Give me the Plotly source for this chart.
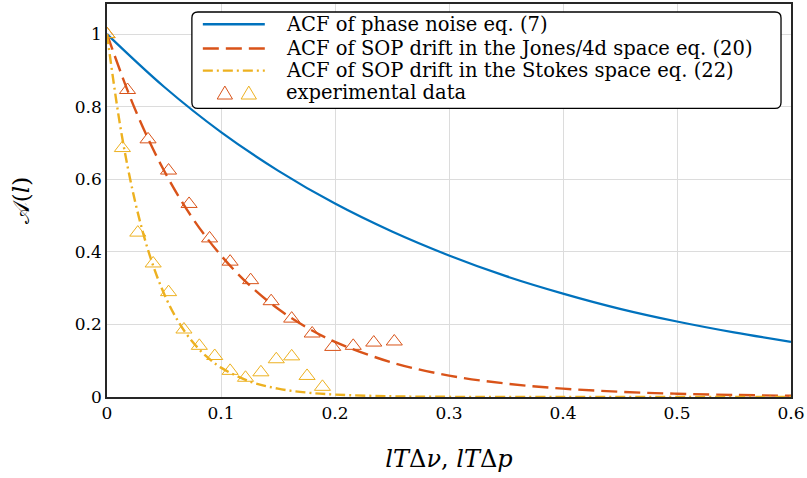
import plotly.graph_objects as go

# theoretical curves
x_phase = [0, 0.05, 0.1, 0.15, 0.2, 0.25, 0.3, 0.35, 0.4, 0.45, 0.5, 0.55, 0.6]
y_phase = [1.0, 0.855, 0.730, 0.624, 0.533, 0.456, 0.390, 0.333, 0.285, 0.243, 0.208, 0.178, 0.152]

x_jones = [0, 0.025, 0.05, 0.075, 0.1, 0.125, 0.15, 0.175, 0.2, 0.25, 0.3, 0.35, 0.4, 0.45, 0.5, 0.55, 0.6]
y_jones = [1.0, 0.790, 0.624, 0.493, 0.390, 0.308, 0.243, 0.192, 0.152, 0.095, 0.059, 0.037,
           0.023, 0.0144, 0.009, 0.0056, 0.0035]

x_stokes = [0, 0.0125, 0.025, 0.0375, 0.05, 0.0625, 0.075, 0.0875, 0.1, 0.125, 0.15, 0.175,
            0.2, 0.25, 0.3, 0.4, 0.5, 0.6]
y_stokes = [1.0, 0.730, 0.534, 0.390, 0.285, 0.208, 0.152, 0.111, 0.081, 0.043, 0.023, 0.0123,
            0.0066, 0.0019, 0.0005, 0.0, 0.0, 0.0]

# experimental data
x_exp_jones = [0, 0.018, 0.036, 0.054, 0.072, 0.090, 0.108, 0.126, 0.144, 0.162, 0.180, 0.198,
               0.216, 0.234, 0.252]
y_exp_jones = [1.0, 0.846, 0.71, 0.624, 0.532, 0.437, 0.373, 0.322, 0.264, 0.216, 0.175, 0.138,
               0.141, 0.150, 0.153]

x_exp_stokes = [0, 0.0135, 0.027, 0.0405, 0.054, 0.0675, 0.081, 0.0945, 0.108, 0.1215, 0.135,
                0.1485, 0.162, 0.1755, 0.189]
y_exp_stokes = [1.0, 0.686, 0.453, 0.368, 0.289, 0.186, 0.141, 0.113, 0.072, 0.053, 0.068,
                0.104, 0.112, 0.058, 0.028]

legend_labels = [
    "ACF of phase noise eq. (7)",
    "ACF of SOP drift in the Jones/4d space eq. (20)",
    "ACF of SOP drift in the Stokes space eq. (22)",
    "experimental data",
]

BLUE = "#0072BD"
RED = "#D95319"
YELLOW = "#EDB120"
FONT = "DejaVu Serif"

fig = go.Figure()

fig.add_trace(go.Scatter(x=x_phase, y=y_phase, mode="lines", line_shape="spline",
                         line=dict(color=BLUE, width=2.2), showlegend=False))
fig.add_trace(go.Scatter(x=x_jones, y=y_jones, mode="lines", line_shape="spline",
                         line=dict(color=RED, width=2.4, dash="16px,7px"), showlegend=False))
fig.add_trace(go.Scatter(x=x_stokes, y=y_stokes, mode="lines", line_shape="spline",
                         line=dict(color=YELLOW, width=2.4, dash="10px,4px,2px,4px"),
                         showlegend=False))
fig.add_trace(go.Scatter(x=x_exp_jones, y=y_exp_jones, mode="markers",
                         marker=dict(symbol="triangle-up-open", size=14, color=RED,
                                     line=dict(width=1)), showlegend=False))
fig.add_trace(go.Scatter(x=x_exp_stokes, y=y_exp_stokes, mode="markers",
                         marker=dict(symbol="triangle-up-open", size=14, color=YELLOW,
                                     line=dict(width=1)), showlegend=False))

# hand-made legend box with rounded corners (two triangles on the last row)
x0, x1, y0, y1 = 0.1241, 0.9854, 0.7342, 0.9797
rx, ry = 0.0088, 0.0152
box = (f"M {x0+rx},{y0} L {x1-rx},{y0} Q {x1},{y0} {x1},{y0+ry} L {x1},{y1-ry} "
       f"Q {x1},{y1} {x1-rx},{y1} L {x0+rx},{y1} Q {x0},{y1} {x0},{y1-ry} "
       f"L {x0},{y0+ry} Q {x0},{y0} {x0+rx},{y0} Z")
shapes = [dict(type="path", xref="paper", yref="paper", path=box,
               fillcolor="white", line=dict(color="black", width=1.3), layer="above")]
rows = [0.9486, 0.8868, 0.8304, 0.7747]
for y, col, dash in zip(rows[:3], [BLUE, RED, YELLOW], ["solid", "16px,7px", "10px,4px,2px,4px"]):
    shapes.append(dict(type="line", xref="paper", yref="paper", x0=0.1401, x1=0.2307, y0=y, y1=y,
                       line=dict(color=col, width=2.4, dash=dash), layer="above"))
hw, hh = 0.0112, 0.0165
for cx, col in [(0.1723, RED), (0.2073, YELLOW)]:
    cy = rows[3]
    path = f"M {cx-hw},{cy-hh} L {cx+hw},{cy-hh} L {cx},{cy+hh} Z"
    shapes.append(dict(type="path", xref="paper", yref="paper", path=path,
                       line=dict(color=col, width=1), fillcolor="rgba(0,0,0,0)", layer="above"))

annotations = []
for y, txt in zip(rows, legend_labels):
    annotations.append(dict(xref="paper", yref="paper", x=0.2584, y=y, text=txt, showarrow=False,
                            xanchor="left", yanchor="middle",
                            font=dict(family=FONT, size=19.5, color="black")))

axis_common = dict(showgrid=True, gridcolor="#dcdcdc", gridwidth=1, zeroline=False,
                   showline=True, linecolor="#262626", linewidth=1.5, mirror=True, ticks="",
                   tickfont=dict(family=FONT, size=17, color="black"))

fig.update_layout(
    width=807, height=478,
    margin=dict(l=107, r=15, t=2, b=81),
    plot_bgcolor="white", paper_bgcolor="white",
    shapes=shapes, annotations=annotations,
    xaxis=dict(range=[0, 0.6], tickvals=[0, 0.1, 0.2, 0.3, 0.4, 0.5, 0.6],
               ticktext=["0", "0.1", "0.2", "0.3", "0.4", "0.5", "0.6"],
               title=dict(text="<i>lT</i>Δ<i>ν</i>, <i>lT</i>Δ<i>p</i>",
                          font=dict(family=FONT, size=24, color="black"), standoff=28),
               **axis_common),
    yaxis=dict(range=[0, 1.083], tickvals=[0, 0.2, 0.4, 0.6, 0.8, 1],
               ticktext=["0", "0.2", "0.4", "0.6", "0.8", "1"],
               title=dict(text="𝒜(<i>l</i>)", font=dict(family=FONT, size=23, color="black"),
                          standoff=39),
               **axis_common),
)

# the page body has a default 8px margin; drop it so the figure sits at the window corner
fig.write_html("out.html", config={"displayModeBar": False},
               post_script="document.body.style.margin='0px';")
